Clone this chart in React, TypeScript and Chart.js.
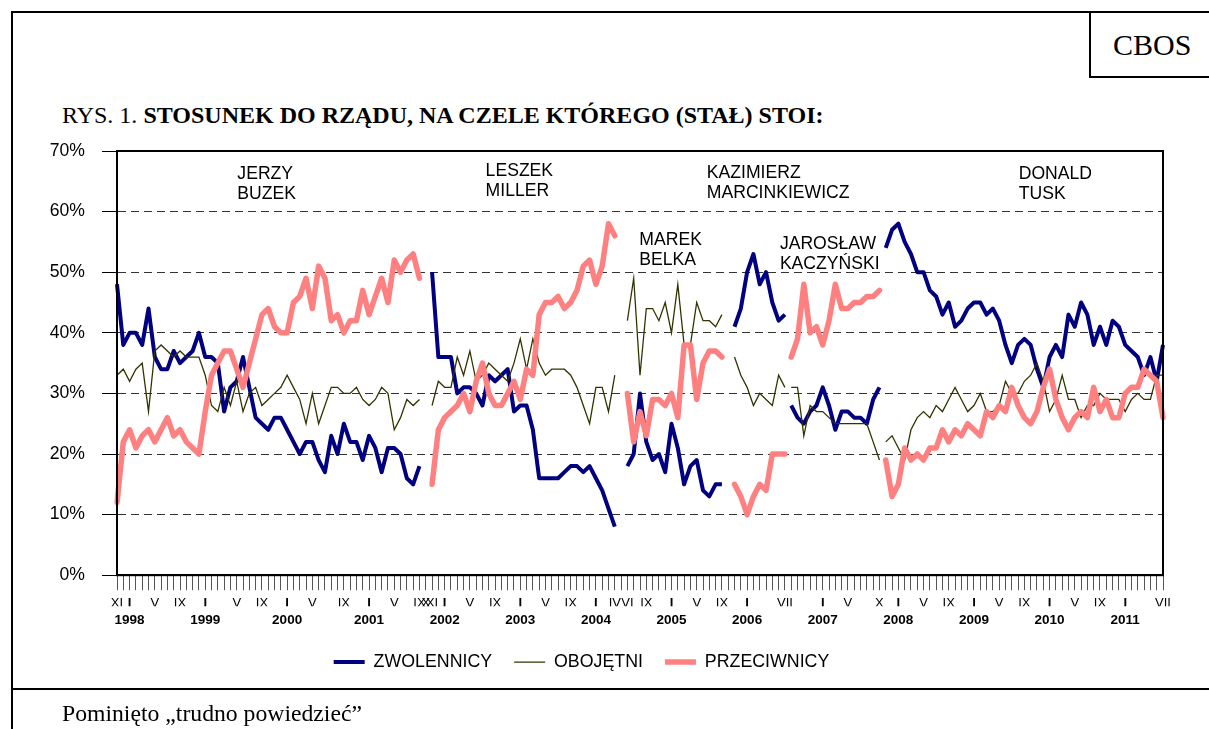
import React, { useEffect, useRef } from 'react';
import { Chart, registerables } from 'chart.js';

Chart.register(...registerables);

// Survey months (category axis). 1999 and 2000 each had one extra survey.
const categories = [
  '1997-11', '1997-12',
  '1998-01', '1998-02', '1998-03', '1998-04', '1998-05', '1998-06', '1998-07', '1998-08', '1998-09', '1998-10', '1998-11', '1998-12',
  '1999-01', '1999-02', '1999-03a', '1999-03b', '1999-04', '1999-05', '1999-06', '1999-07', '1999-08', '1999-09', '1999-10', '1999-11', '1999-12',
  '2000-01', '2000-02', '2000-03', '2000-04', '2000-05', '2000-06', '2000-07', '2000-08a', '2000-08b', '2000-09', '2000-10', '2000-11', '2000-12',
  '2001-01', '2001-02', '2001-03', '2001-04', '2001-05', '2001-06', '2001-07', '2001-08', '2001-09', '2001-10', '2001-11', '2001-12',
  '2002-01', '2002-02', '2002-03', '2002-04', '2002-05', '2002-06', '2002-07', '2002-08', '2002-09', '2002-10', '2002-11', '2002-12',
  '2003-01', '2003-02', '2003-03', '2003-04', '2003-05', '2003-06', '2003-07', '2003-08', '2003-09', '2003-10', '2003-11', '2003-12',
  '2004-01', '2004-02', '2004-03', '2004-04', '2004-05', '2004-06', '2004-07', '2004-08', '2004-09', '2004-10', '2004-11', '2004-12',
  '2005-01', '2005-02', '2005-03', '2005-04', '2005-05', '2005-06', '2005-07', '2005-08', '2005-09', '2005-10', '2005-11', '2005-12',
  '2006-01', '2006-02', '2006-03', '2006-04', '2006-05', '2006-06', '2006-07', '2006-08', '2006-09', '2006-10', '2006-11', '2006-12',
  '2007-01', '2007-02', '2007-03', '2007-04', '2007-05', '2007-06', '2007-07', '2007-08', '2007-09', '2007-10', '2007-11', '2007-12',
  '2008-01', '2008-02', '2008-03', '2008-04', '2008-05', '2008-06', '2008-07', '2008-08', '2008-09', '2008-10', '2008-11', '2008-12',
  '2009-01', '2009-02', '2009-03', '2009-04', '2009-05', '2009-06', '2009-07', '2009-08', '2009-09', '2009-10', '2009-11', '2009-12',
  '2010-01', '2010-02', '2010-03', '2010-04', '2010-05', '2010-06', '2010-07', '2010-08', '2010-09', '2010-10', '2010-11', '2010-12',
  '2011-01', '2011-02', '2011-03', '2011-04', '2011-05', '2011-06', '2011-07',
];

const N = null;

// ZWOLENNICY (supporters), %
const zwolennicy = [
  48, 38, 40, 40, 38, 44, 36, 34, 34, 37, 35, 36, 37, 40, 36, 36, 35, 27, 31, 32, 36, 31, 26, 25, 24,
  26, 26, 24, 22, 20, 22, 22, 19, 17, 23, 20, 25, 22, 22, 19, 23, 21, 17, 21, 21, 20, 16, 15, 18,
  N,
  50, 36, 36, 36, 30, 31, 31, 30, 28, 33, 32, 33, 34, 27, 28, 28, 24, 16, 16, 16, 16, 17, 18, 18, 17, 18, 16, 14, 11, 8,
  N,
  18, 20, 30, 22, 19, 20, 17, 25, 21, 15, 18, 19, 14, 13, 15, 15,
  N,
  41, 44, 50, 53, 48, 50, 45, 42, 43,
  28, 26, 25, 27, 28, 31, 28, 24, 27, 27, 26, 26, 25, 29, 31,
  54, 57, 58, 55, 53, 50, 50, 47, 46, 43, 45, 41, 42, 44, 45, 45, 43, 44, 42, 38, 35, 38, 39, 38, 34,
  31, 36, 38, 36, 43, 41, 45, 43, 38, 41, 38, 42, 41, 38, 37, 36, 33, 36, 32, 38,
];

// OBOJĘTNI (indifferent), %
const obojetni = [
  33, 34, 32, 34, 35, 27, 37, 38, 37, 36, 37, 36, 36, 36, 33, 28, 27, 31, 28, 32, 27, 30, 31, 28, 29,
  30, 31, 33, 31, 29, 25, 30, 25, 28, 31, 31, 30, 30, 31, 29, 28, 29, 31, 30, 24, 26, 29, 28, 29,
  N,
  28, 32, 31, 31, 36, 33, 37, 32, 33, 35, 34, 33, 32, 35, 39, 34, 39, 35, 33, 34, 34, 34, 33, 31, 28, 25, 31, 31, 27, 33,
  N,
  42, 49, 33, 44, 44, 42, 45, 40, 48, 38, 38, 45, 42, 42, 41, 43,
  N,
  36, 33, 31, 28, 30, 29, 28, 33, 31,
  31, 31, 23, 28, 27, 27, 26, 25, 25, 25, 25, 25, 25, 22, 19,
  22, 23, 21, 19, 24, 26, 27, 26, 28, 27, 29, 31, 29, 27, 28, 30, 27, 27, 28, 32, 30, 30, 32, 33, 35,
  32, 27, 29, 33, 29, 29, 26, 28, 28, 30, 29, 29, 29, 27, 29, 30, 29, 29, 33, 33,
];

// PRZECIWNICY (opponents), %
const przeciwnicy = [
  12, 22, 24, 21, 23, 24, 22, 24, 26, 23, 24, 22, 21, 20, 27, 33, 35, 37, 37, 34, 31, 35, 39, 43, 44,
  41, 40, 40, 45, 46, 49, 44, 51, 49, 42, 43, 40, 42, 42, 47, 43, 46, 49, 45, 52, 50, 52, 53, 49,
  N,
  15, 24, 26, 27, 28, 30, 27, 32, 35, 30, 28, 28, 30, 32, 29, 34, 33, 43, 45, 45, 46, 44, 45, 47, 51, 52, 48, 51, 58, 56,
  N,
  30, 22, 27, 23, 29, 29, 28, 30, 26, 38, 38, 29, 35, 37, 37, 36,
  N,
  15, 13, 10, 13, 15, 14, 20, 20, 20,
  36, 39, 48, 40, 41, 38, 42, 48, 44, 44, 45, 45, 46, 46, 47,
  19, 13, 15, 21, 19, 20, 19, 21, 21, 24, 22, 24, 23, 25, 24, 23, 27, 26, 28, 27, 31, 28, 26, 25, 27,
  31, 34, 29, 26, 24, 26, 27, 26, 31, 27, 29, 26, 26, 30, 31, 31, 34, 33, 32, 26,
];

// government changes with no empty survey month in between: line is broken after these
const breakAfter = ['2006-07', '2007-10'];

// month tick labels (Roman numerals) and year labels
const monthTicks: [string, string][] = [
  ['1997-11', 'XI'], ['1998-01', 'I'], ['1998-05', 'V'], ['1998-09', 'IX'],
  ['1999-01', 'I'], ['1999-05', 'V'], ['1999-09', 'IX'],
  ['2000-01', 'I'], ['2000-05', 'V'], ['2000-09', 'IX'],
  ['2001-01', 'I'], ['2001-05', 'V'], ['2001-09', 'IX'], ['2001-10', 'X'], ['2001-11', 'XI'],
  ['2002-01', 'I'], ['2002-05', 'V'], ['2002-09', 'IX'],
  ['2003-01', 'I'], ['2003-05', 'V'], ['2003-09', 'IX'],
  ['2004-01', 'I'], ['2004-04', 'IV'], ['2004-06', 'VI'], ['2004-09', 'IX'],
  ['2005-01', 'I'], ['2005-05', 'V'], ['2005-09', 'IX'],
  ['2006-01', 'I'], ['2006-07', 'VII'],
  ['2007-01', 'I'], ['2007-05', 'V'], ['2007-10', 'X'],
  ['2008-01', 'I'], ['2008-05', 'V'], ['2008-09', 'IX'],
  ['2009-01', 'I'], ['2009-05', 'V'], ['2009-09', 'IX'],
  ['2010-01', 'I'], ['2010-05', 'V'], ['2010-09', 'IX'],
  ['2011-01', 'I'], ['2011-07', 'VII'],
];

const yearTicks: [string, string][] = [
  ['1998-01', '1998'], ['1999-01', '1999'], ['2000-01', '2000'], ['2001-01', '2001'],
  ['2002-01', '2002'], ['2003-01', '2003'], ['2004-01', '2004'], ['2005-01', '2005'],
  ['2006-01', '2006'], ['2007-01', '2007'], ['2008-01', '2008'], ['2009-01', '2009'],
  ['2010-01', '2010'], ['2011-01', '2011'],
];

// prime-minister labels: category (fractional index) and value of first baseline
const pmLabels = [
  { lines: ['JERZY', 'BUZEK'], at: 19.1, value: 65.3 },
  { lines: ['LESZEK', 'MILLER'], at: 58.5, value: 65.8 },
  { lines: ['MAREK', 'BELKA'], at: 82.9, value: 54.5 },
  { lines: ['KAZIMIERZ', 'MARCINKIEWICZ'], at: 93.6, value: 65.5 },
  { lines: ['JAROSŁAW', 'KACZYŃSKI'], at: 105.2, value: 53.9 },
  { lines: ['DONALD', 'TUSK'], at: 143.1, value: 65.3 },
];

const SANS = '"Liberation Sans", Arial, sans-serif';
const monthMap = new Map(monthTicks);
const yearMap = new Map(yearTicks);
const breakIdx = breakAfter.map((c) => categories.indexOf(c));

const segBreak = {
  borderColor: (c: any) => (breakIdx.includes(c.p0DataIndex) ? 'rgba(0,0,0,0)' : undefined),
};

const plotFrame = {
  id: 'plotFrame',
  afterDraw(chart: any) {
    const { ctx, chartArea: a } = chart;
    ctx.save();
    ctx.strokeStyle = '#000';
    ctx.lineWidth = 2;
    ctx.strokeRect(a.left, a.top, a.right - a.left, a.bottom - a.top);
    ctx.restore();
  },
};

const pmText = {
  id: 'pmText',
  afterDatasetsDraw(chart: any) {
    const { ctx } = chart;
    const xs = chart.scales.x;
    const ys = chart.scales.y;
    ctx.save();
    ctx.font = `17.6px ${SANS}`;
    ctx.fillStyle = '#000';
    ctx.textAlign = 'left';
    ctx.textBaseline = 'alphabetic';
    pmLabels.forEach((p) => {
      const x = xs.getPixelForValue(p.at);
      const y = ys.getPixelForValue(p.value);
      p.lines.forEach((t, i) => ctx.fillText(t, x, y + i * 20));
    });
    ctx.restore();
  },
};

export default function App() {
  const ref = useRef<HTMLCanvasElement>(null);

  useEffect(() => {
    if (!ref.current) return;
    const chart = new Chart(ref.current, {
      type: 'line',
      data: {
        labels: categories,
        datasets: [
          {
            label: 'ZWOLENNICY',
            data: zwolennicy,
            borderColor: '#000080',
            backgroundColor: '#000080',
            borderWidth: 4,
            borderJoinStyle: 'round',
            pointRadius: 0,
            xAxisID: 'x',
            order: 3,
            segment: segBreak,
          },
          {
            label: 'OBOJĘTNI',
            data: obojetni,
            borderColor: '#333300',
            backgroundColor: '#333300',
            borderWidth: 1.3,
            pointRadius: 0,
            xAxisID: 'x',
            order: 2,
            segment: segBreak,
          },
          {
            label: 'PRZECIWNICY',
            data: przeciwnicy,
            borderColor: '#FF8080',
            backgroundColor: '#FF8080',
            borderWidth: 5.5,
            borderJoinStyle: 'round',
            borderCapStyle: 'round',
            pointRadius: 0,
            xAxisID: 'x',
            order: 1,
            segment: segBreak,
          },
        ],
      },
      options: {
        responsive: false,
        animation: false,
        devicePixelRatio: 1,
        layout: { padding: { top: 151, left: 0, right: 46, bottom: 48 } },
        plugins: {
          tooltip: { enabled: false },
          legend: {
            position: 'bottom',
            labels: {
              usePointStyle: true,
              pointStyle: 'line',
              pointStyleWidth: 31,
              padding: 22,
              color: '#000',
              font: { family: SANS, size: 17.8 },
              sort: (a: any, b: any) => a.datasetIndex - b.datasetIndex,
            },
          },
        },
        scales: {
          y: {
            min: 0,
            max: 70,
            afterFit: (s: any) => {
              s.width = 117;
            },
            ticks: {
              stepSize: 10,
              padding: 17,
              color: '#000',
              font: { family: SANS, size: 17.6 },
              callback: (v: any) => `${v}%`,
            },
            grid: { color: '#333', lineWidth: 1, drawTicks: true, tickLength: 15, tickColor: '#000' },
            border: { display: true, color: '#000', width: 2, dash: [8, 5] },
          },
          x: {
            type: 'category',
            position: 'bottom',
            afterFit: (s: any) => {
              s.height = 31;
            },
            ticks: {
              autoSkip: false,
              maxRotation: 0,
              minRotation: 0,
              padding: 5,
              color: '#000',
              font: (c: any) => ({
                family: SANS,
                size: 13,
                weight: monthMap.get(categories[c.index]) === 'I' ? 'bold' : 'normal',
              }),
              callback: (_v: any, i: number) => monthMap.get(categories[i]) || '',
            },
            grid: { drawOnChartArea: false, drawTicks: true, tickLength: 15, color: '#555', lineWidth: 1 },
            border: { display: true, color: '#000', width: 2 },
          },
          x2: {
            type: 'category',
            position: 'bottom',
            afterFit: (s: any) => {
              s.height = 25;
            },
            ticks: {
              autoSkip: false,
              maxRotation: 0,
              minRotation: 0,
              padding: 6,
              color: '#000',
              font: { family: SANS, size: 13.5, weight: 'bold' },
              callback: (_v: any, i: number) => yearMap.get(categories[i]) || '',
            },
            grid: { display: false, drawTicks: false },
            border: { display: false },
          },
        },
      },
      plugins: [plotFrame, pmText],
    } as any);
    return () => chart.destroy();
  }, []);

  const serif = '"Liberation Serif", "Times New Roman", serif';

  return (
    <div
      style={{
        position: 'absolute',
        left: 0,
        top: 0,
        width: 1209,
        height: 729,
        background: '#fff',
        overflow: 'hidden',
        fontFamily: serif,
        color: '#000',
      }}
    >
      <div
        style={{
          position: 'absolute',
          left: 11,
          top: 11,
          width: 1230,
          height: 675,
          borderTop: '2px solid #000',
          borderLeft: '2px solid #000',
          borderBottom: '2px solid #000',
        }}
      />
      <div style={{ position: 'absolute', left: 11, top: 689, width: 0, height: 60, borderLeft: '2px solid #000' }} />
      <div
        style={{
          position: 'absolute',
          left: 1089,
          top: 11,
          width: 150,
          height: 65,
          borderLeft: '2px solid #000',
          borderBottom: '2px solid #000',
        }}
      />
      <div style={{ position: 'absolute', left: 1113, top: 30, fontSize: 30, lineHeight: '30px', whiteSpace: 'nowrap' }}>
        CBOS
      </div>
      <div style={{ position: 'absolute', left: 62, top: 103, fontSize: 24, lineHeight: '24px', whiteSpace: 'nowrap' }}>
        RYS. 1. <b>STOSUNEK DO RZĄDU, NA CZELE KTÓREGO (STAŁ) STOI:</b>
      </div>
      <canvas
        ref={ref}
        width={1209}
        height={729}
        style={{ position: 'absolute', left: 0, top: 0, width: 1209, height: 729, display: 'block' }}
      />
      <div style={{ position: 'absolute', left: 62, top: 701, fontSize: 23.7, lineHeight: '24px', whiteSpace: 'nowrap' }}>
        Pominięto {'\u201E'}trudno powiedzieć{'\u201D'}
      </div>
    </div>
  );
}
